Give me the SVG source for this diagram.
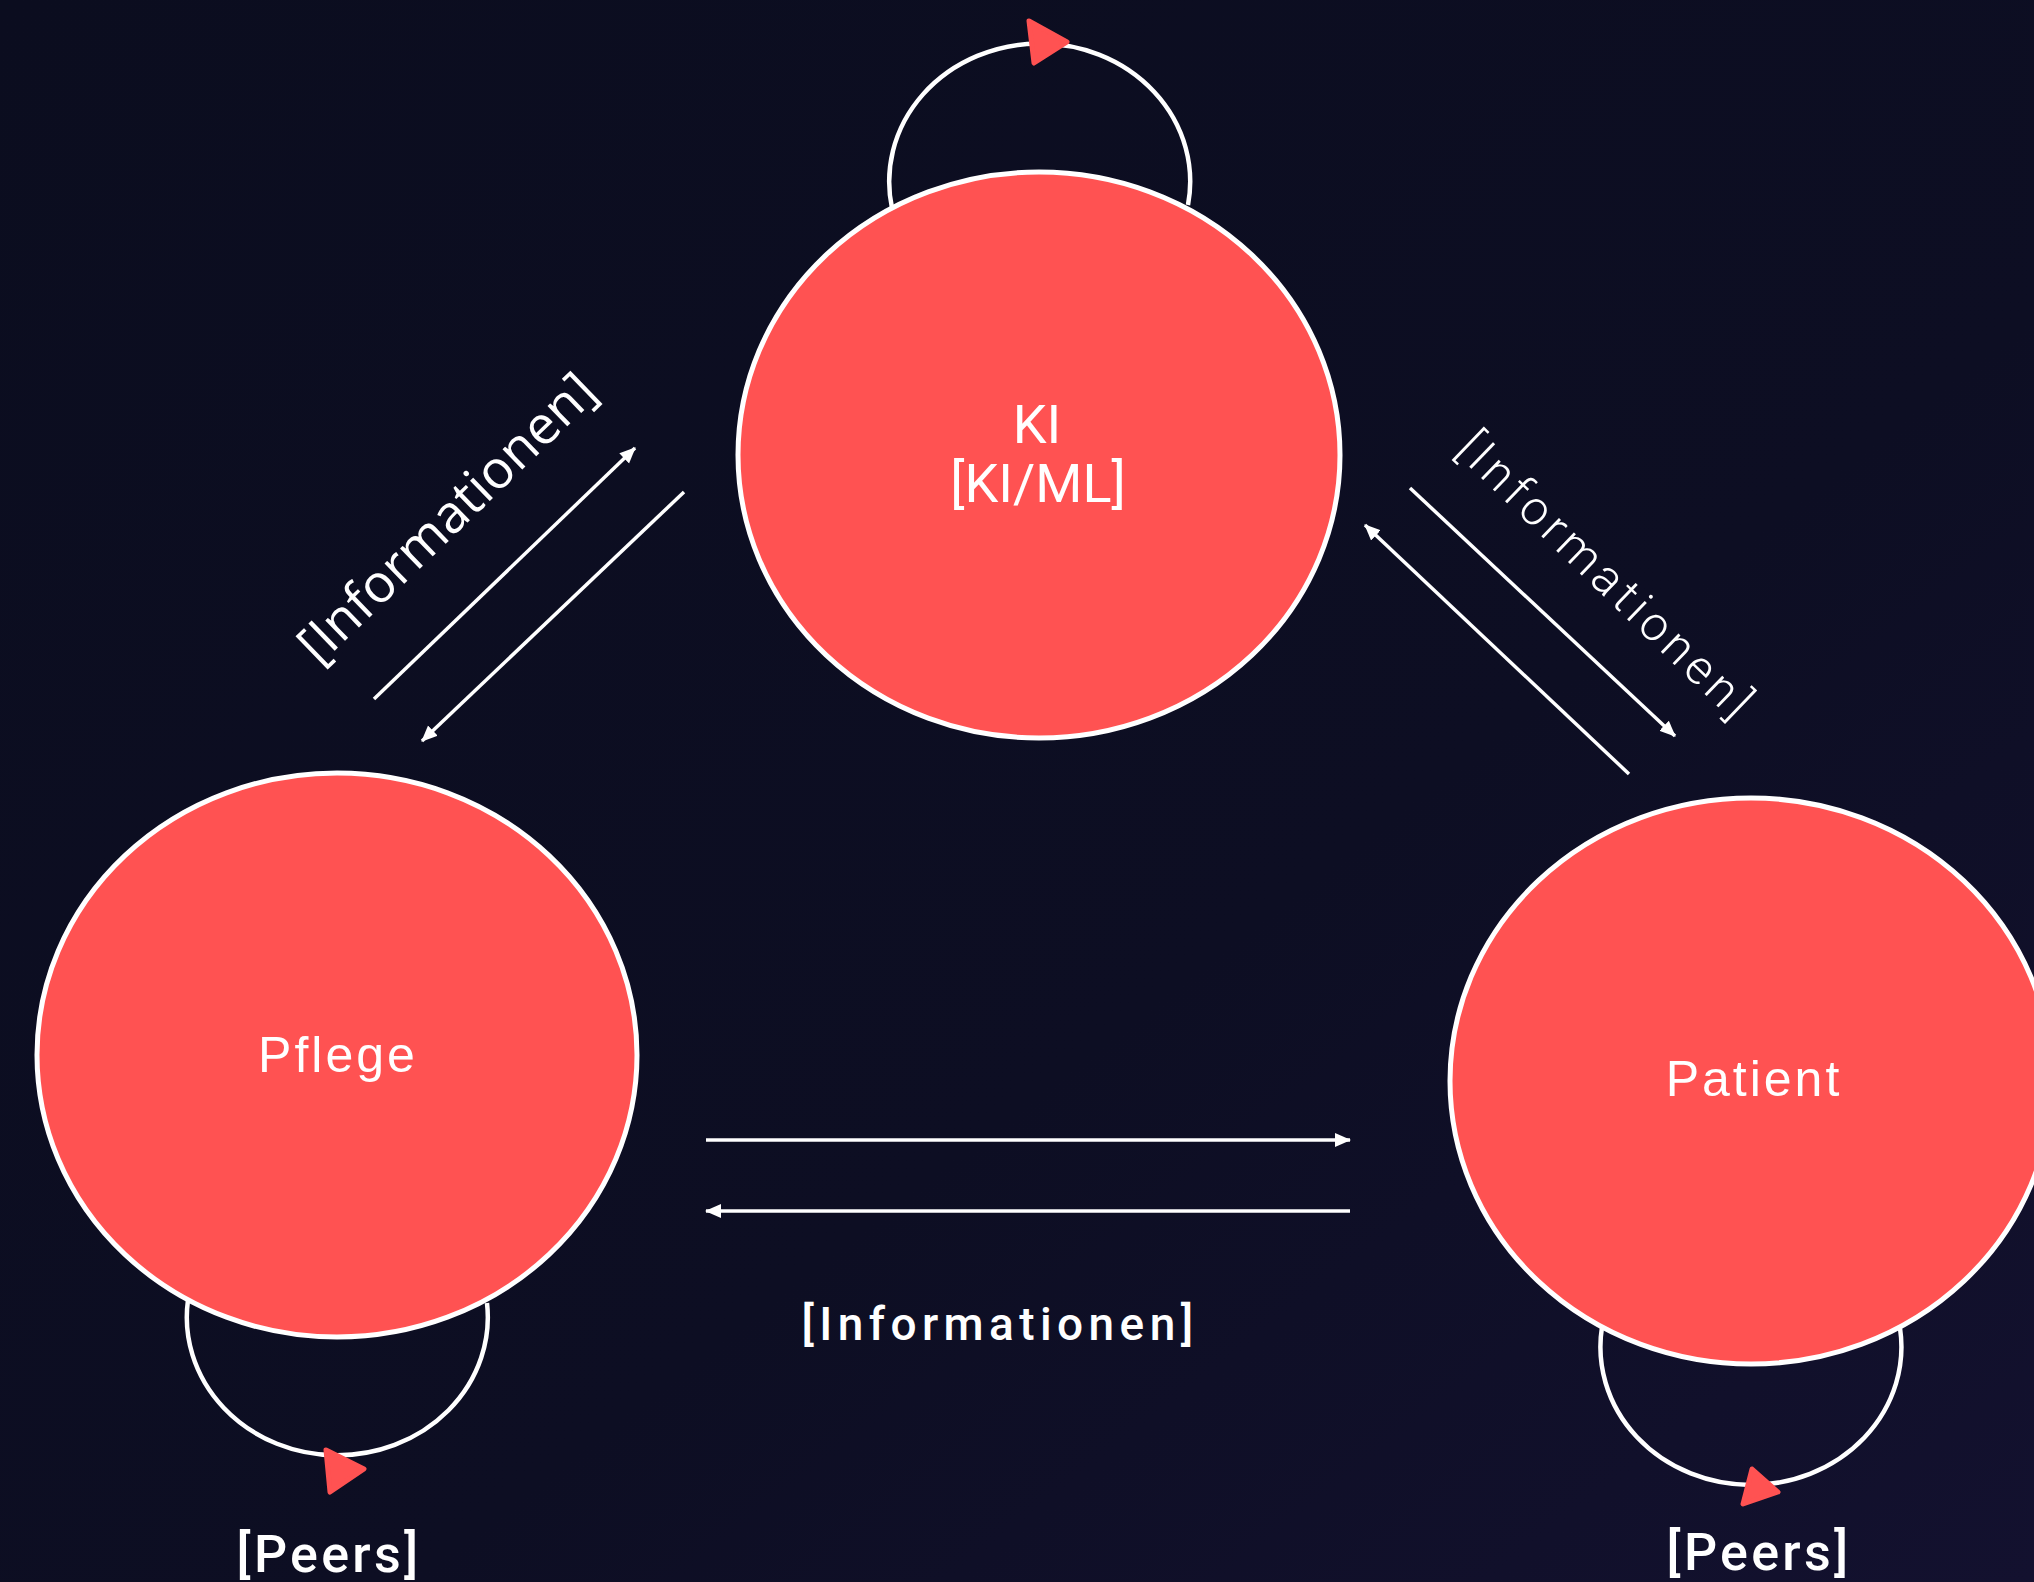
<svg xmlns="http://www.w3.org/2000/svg" width="2034" height="1582" viewBox="0 0 2034 1582">
  <defs>
    <linearGradient id="bg" x1="0" y1="0" x2="1" y2="1">
      <stop offset="0" stop-color="#0b0d1f"/>
      <stop offset="0.6" stop-color="#0d0e23"/>
      <stop offset="1" stop-color="#13112f"/>
    </linearGradient>
    <marker id="ah" viewBox="0 0 16 16" refX="15" refY="8" markerWidth="16" markerHeight="16" markerUnits="userSpaceOnUse" orient="auto">
      <path d="M0,1 L16,8 L0,15 z" fill="#ffffff"/>
    </marker>
    <style>
      .node { fill: #FF5252; stroke: #ffffff; stroke-width: 5; }
      .loop { fill: none; stroke: #ffffff; stroke-width: 4.5; }
      .loophead { fill: #FF5252; stroke: #FF5252; stroke-width: 5; stroke-linejoin: round; }
      .edge { fill: none; stroke: #ffffff; stroke-width: 3.5; marker-end: url(#ah); }
      .ntext { font-family: "Liberation Sans", Arial, sans-serif; font-size: 50px; fill: #ffffff; letter-spacing: 3px; text-anchor: middle; }
      .ktext { font-family: Roboto, "DejaVu Sans", sans-serif; font-size: 54px; font-weight: 400; fill: #ffffff; text-anchor: middle; }
      .din { font-family: Roboto, "DejaVu Sans", sans-serif; font-weight: 500; fill: #ffffff; text-anchor: middle; }
      .diagL { font-family: "Open Sans", "Noto Sans", sans-serif; font-size: 53px; fill: #ffffff; text-anchor: middle; }
      .diagR { font-family: Roboto, "DejaVu Sans", sans-serif; font-weight: 300; font-size: 48px; letter-spacing: 4.8px; fill: #ffffff; text-anchor: middle; }
    </style>
  </defs>
  <rect x="0" y="0" width="2034" height="1582" fill="url(#bg)"/>

  <g id="connectors">
    <path class="loop" d="M892,208 A150.5,138 0 1,1 1188,205"/>
    <path class="loop" d="M188,1300 A150.5,138 0 1,0 487,1303"/>
    <path class="loop" d="M1602,1327 A150.5,138 0 1,0 1900,1328"/>
    <polygon class="loophead" points="1029,21 1067,42 1034,63"/>
    <polygon class="loophead" points="326,1450 364,1469 330,1492"/>
    <polygon class="loophead" points="1752,1469 1778,1492 1743,1504"/>
    <line class="edge" x1="374" y1="699" x2="635" y2="448"/>
    <line class="edge" x1="684" y1="492" x2="422" y2="741"/>
    <line class="edge" x1="1410" y1="488" x2="1675" y2="736"/>
    <line class="edge" x1="1629" y1="774" x2="1365" y2="525"/>
    <line class="edge" x1="706" y1="1140" x2="1350" y2="1140"/>
    <line class="edge" x1="1350" y1="1211" x2="706" y2="1211"/>
    <text class="diagL" transform="translate(446,517) rotate(-44)" x="0" y="19">[Informationen]</text>
    <text class="diagR" transform="translate(1607,576) rotate(44)" x="0" y="17">[Informationen]</text>
    <text class="din" x="1000" y="1340" font-size="46" letter-spacing="5.4">[Informationen]</text>
    <text class="din" x="329" y="1572" font-size="52" letter-spacing="3.3">[Peers]</text>
    <text class="din" x="1759" y="1570" font-size="52" letter-spacing="3.3">[Peers]</text>
  </g>

  <g id="node-ki">
    <ellipse class="node" cx="1039" cy="455" rx="301" ry="283"/>
    <text class="ktext" x="1037" y="443">KI</text>
    <text class="ktext" x="1038" y="502">[KI/ML]</text>
  </g>
  <g id="node-pflege">
    <ellipse class="node" cx="337" cy="1055" rx="300" ry="282"/>
    <text class="ntext" x="338" y="1072">Pflege</text>
  </g>
  <g id="node-patient">
    <ellipse class="node" cx="1751" cy="1081" rx="301" ry="283"/>
    <text class="ntext" x="1754" y="1096">Patient</text>
  </g>
</svg>
